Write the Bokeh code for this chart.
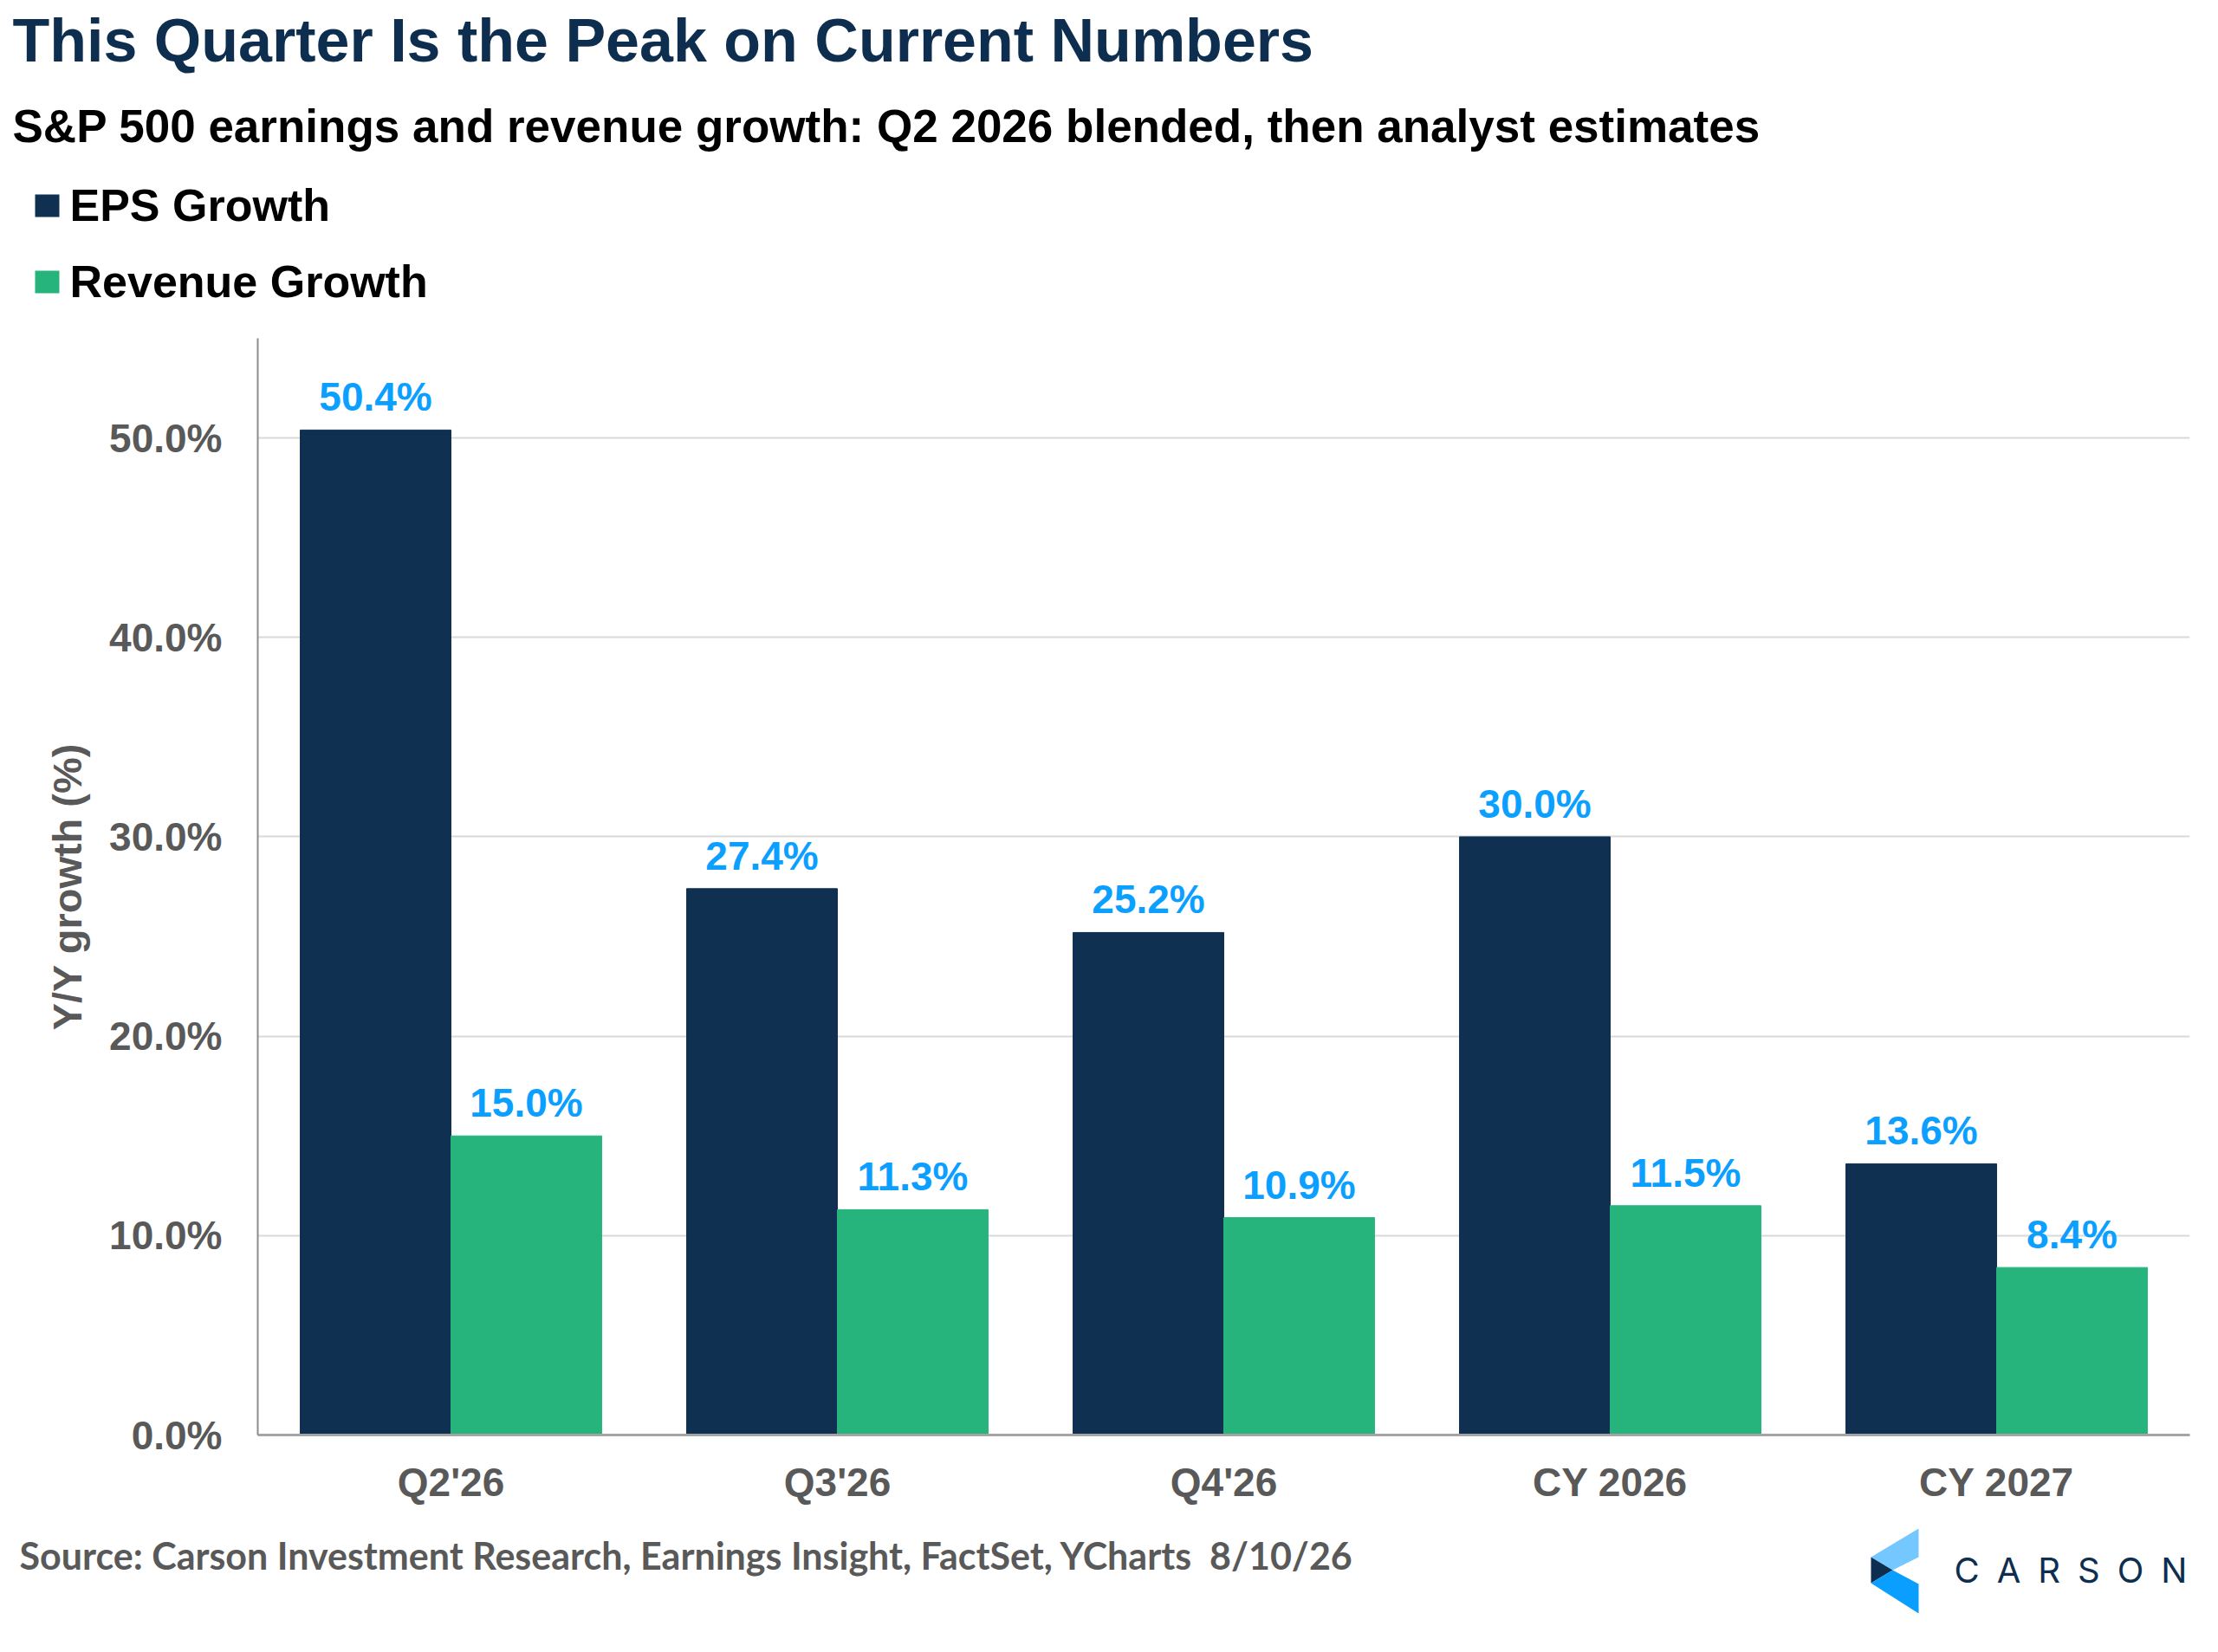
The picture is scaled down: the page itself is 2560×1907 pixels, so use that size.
from bokeh.plotting import figure
from bokeh.layouts import column
from bokeh.models import (ColumnDataSource, FactorRange, Range1d, PrintfTickFormatter, Label)
from bokeh.transform import dodge
from bokeh.core.properties import value
from bokeh.embed import file_html
from bokeh.resources import INLINE

# data
periods = ["Q2'26", "Q3'26", "Q4'26", "CY 2026", "CY 2027"]
eps_growth = [50.4, 27.4, 25.2, 30.0, 13.6]
revenue_growth = [15.0, 11.3, 10.9, 11.5, 8.4]
y_ticks = [0, 10, 20, 30, 40, 50]

NAVY = "#0F3050"
GREEN = "#26B47C"
LABEL_BLUE = "#0BA0FF"
GREY = "#595959"
FONT = "Liberation Sans"
W = 2552

src = ColumnDataSource(dict(
    period=periods,
    eps=eps_growth,
    rev=revenue_growth,
    eps_txt=["%.1f%%" % v for v in eps_growth],
    rev_txt=["%.1f%%" % v for v in revenue_growth],
))


def blank(top, bottom):
    # a plain strip whose data units are page pixels (y grows downwards)
    f = figure(width=W, height=bottom - top, x_range=Range1d(0, W),
               y_range=Range1d(bottom, top), output_backend="svg", toolbar_location=None,
               x_axis_location=None, y_axis_location=None, min_border=0,
               frame_align=False)
    f.grid.visible = False
    f.outline_line_color = None
    return f


def label(f, x, y, text, size, color, font=FONT, style="bold"):
    f.add_layout(Label(x=x, y=y, text=text, text_font=font, text_font_style=style,
                       text_font_size=size, text_color=color, text_baseline="alphabetic"))


# header: title, subtitle, legend
head = blank(0, 390)
label(head, 14, 46, "This Quarter Is the Peak on Current Numbers", "70px", "#0E2E4F")
label(head, 14, 145, "S&P 500 earnings and revenue growth: Q2 2026 blended, then analyst estimates",
      "53px", "black")
label(head, 80, 236, "EPS Growth", "52px", "black")
label(head, 80, 324, "Revenue Growth", "52px", "black")
head.quad(left=[40, 40], right=[68, 68], top=[224, 312], bottom=[250, 338],
          fill_color=[NAVY, GREEN], line_color=None)

# main chart
p = figure(x_range=FactorRange(factors=periods), y_range=Range1d(0, 55),
           width=W, height=1370, output_backend="svg", toolbar_location=None,
           min_border_left=297, min_border_right=25, min_border_top=0,
           min_border_bottom=104, frame_align=False)
p.outline_line_color = None

p.vbar(x=dodge("period", -0.195, range=p.x_range), top="eps", width=0.39, source=src,
       fill_color=NAVY, line_color=NAVY, legend_label="EPS Growth")
p.vbar(x=dodge("period", 0.195, range=p.x_range), top="rev", width=0.39, source=src,
       fill_color=GREEN, line_color=GREEN, legend_label="Revenue Growth")
p.legend.visible = False

for off, ycol, tcol in [(-0.195, "eps", "eps_txt"), (0.195, "rev", "rev_txt")]:
    p.text(x=dodge("period", off, range=p.x_range), y=ycol, text=tcol,
           source=src, text_align="center", text_baseline="alphabetic", y_offset=-38,
           text_font=value(FONT), text_font_style="bold", text_font_size="46px",
           text_color=LABEL_BLUE)

p.xgrid.grid_line_color = None
p.ygrid.ticker = y_ticks
p.ygrid.grid_line_color = "#D9D9D9"
p.ygrid.grid_line_width = 2

p.yaxis.ticker = y_ticks
p.yaxis.formatter = PrintfTickFormatter(format="%.1f%%")
p.yaxis.axis_label = "Y/Y growth (%)"
p.yaxis.axis_label_text_font = FONT
p.yaxis.axis_label_text_font_style = "bold"
p.yaxis.axis_label_text_font_size = "47px"
p.yaxis.axis_label_text_color = GREY
p.yaxis.axis_label_standoff = 19
p.yaxis.axis_line_color = "#8C8C8C"
p.yaxis.axis_line_width = 2
p.yaxis.major_label_standoff = 35

p.xaxis.axis_line_color = "#A5A5A5"
p.xaxis.axis_line_width = 3
p.xaxis.major_label_standoff = 22

for ax in (p.xaxis, p.yaxis):
    ax.major_tick_line_color = None
    ax.minor_tick_line_color = None
    ax.major_label_text_font = FONT
    ax.major_label_text_font_style = "bold"
    ax.major_label_text_font_size = "46px"
    ax.major_label_text_color = GREY

# footer: source and logo
foot = blank(1760, 1899)
label(foot, 22, 1795, "Source: Carson Investment Research, Earnings Insight, FactSet, YCharts\u00a0 8/10/26",
      "43px", GREY, font="Lato")
foot.patches(xs=[[2159, 2214, 2214, 2184], [2159, 2184, 2159], [2159, 2184, 2214, 2214]],
             ys=[[1797, 1764, 1797, 1812], [1797, 1812, 1827], [1827, 1812, 1828, 1862]],
             fill_color=["#74C7FF", "#0E2E4F", "#0A9EFF"], line_color=None)
label(foot, 2255, 1812, "C\u2002A\u2002R\u2002S\u2002O\u2002N", "40px", "#0E2E4F", font="Inter",
      style="normal")

page = column(head, p, foot, spacing=0)
open("out.html", "w").write(file_html(page, INLINE))
